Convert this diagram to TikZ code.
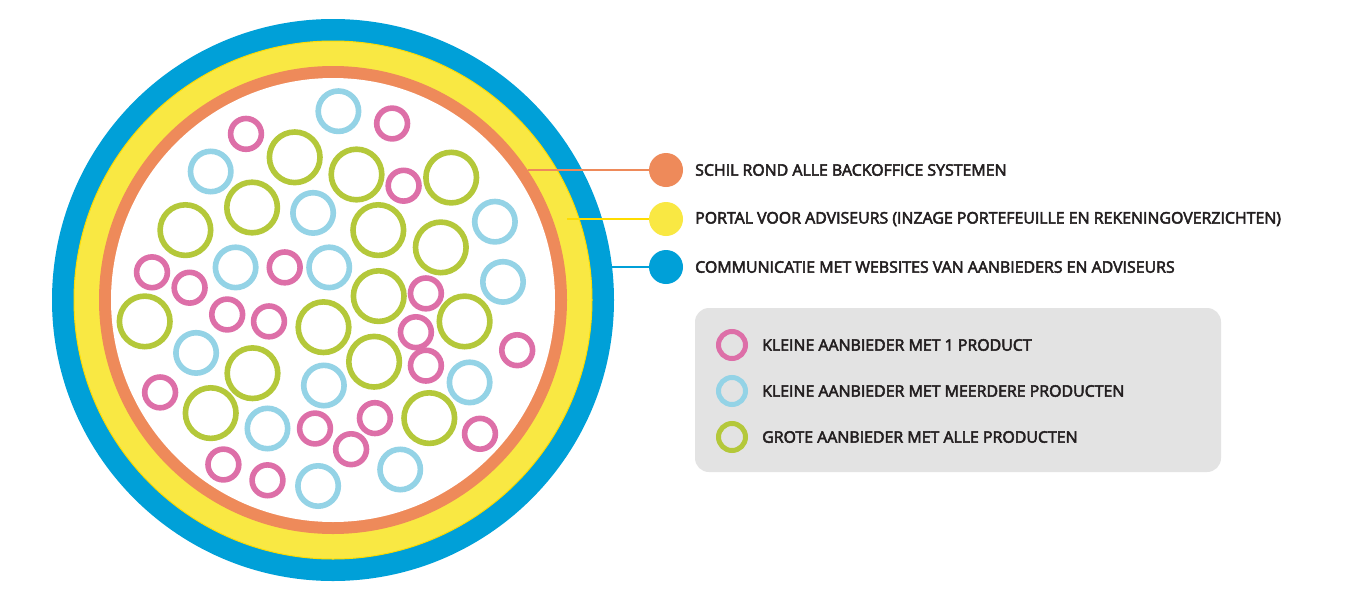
\documentclass[tikz,border=0pt]{standalone}
\usepackage{fontspec}
\setmainfont{Open Sans}
\newcommand\semitxt[1]{\special{pdf:literal direct 2 Tr 0.5 w}#1\special{pdf:literal direct 0 Tr}}
\definecolor{cblue}{HTML}{00A0D8}
\definecolor{cyellow}{HTML}{F9E843}
\definecolor{cgold}{HTML}{FFDC00}
\definecolor{corange}{HTML}{EE8A5A}
\definecolor{cpink}{HTML}{DD6FA8}
\definecolor{clblue}{HTML}{94D3E6}
\definecolor{cgreen}{HTML}{B4C83A}
\definecolor{cgray}{HTML}{E3E3E3}
\definecolor{ctext}{HTML}{231F20}
\begin{document}
\begin{tikzpicture}[x=1pt,y=-1pt,
  band/.style={circle,inner sep=0pt,outer sep=0pt,minimum size=#1},
  ring/.style={circle,draw,inner sep=0pt,outer sep=0pt,line width=5.6pt,fill=none},
  gring/.style={ring,draw=cgreen,minimum size=50.6pt},
  bring/.style={ring,draw=clblue,minimum size=40.4pt},
  pring/.style={ring,draw=cpink,minimum size=30.8pt},
  lring/.style={circle,draw=#1,inner sep=0pt,outer sep=0pt,line width=5pt,minimum size=27pt},
  dot/.style={circle,fill=#1,inner sep=0pt,outer sep=0pt,minimum size=34pt},
  lbl/.style={anchor=west,inner sep=0pt,text=ctext,font=\fontsize{15.9pt}{18pt}\selectfont},
  leader/.style={line width=2pt,draw=#1}]
\useasboundingbox (0,0) rectangle (1350,600);
\fill[white] (0,0) rectangle (1350,600);
% concentric bands
\node[band=562pt,fill=cblue] (bandblue) at (333,300) {};
\node[band=518pt,fill=cyellow,draw=cgold,line width=1pt] (bandyellow) at (333,300) {};
\node[band=468pt,fill=corange] (bandorange) at (333,300) {};
\node[band=444pt,fill=white] (core) at (333,300) {};
% light blue rings
\node[bring] (b1) at (338.4,111.2) {};
\node[bring] (b2) at (210.7,171.5) {};
\node[bring] (b3) at (313.1,212.9) {};
\node[bring] (b4) at (494.9,221.7) {};
\node[bring] (b5) at (235.6,267.4) {};
\node[bring] (b6) at (329.2,267.4) {};
\node[bring] (b7) at (503.0,281.9) {};
\node[bring] (b8) at (196.1,352.9) {};
\node[bring] (b9) at (469.6,382.4) {};
\node[bring] (b10) at (323.9,385.5) {};
\node[bring] (b11) at (267.5,428.5) {};
\node[bring] (b12) at (400.2,469.5) {};
\node[bring] (b13) at (318.1,486.0) {};
% green rings
\node[gring] (g1) at (294.7,157.3) {};
\node[gring] (g2) at (356.5,174.5) {};
\node[gring] (g3) at (451.2,177.6) {};
\node[gring] (g4) at (252.1,207.5) {};
\node[gring] (g5) at (185.4,230.1) {};
\node[gring] (g6) at (378.3,230.1) {};
\node[gring] (g7) at (440.8,247.4) {};
\node[gring] (g8) at (144.7,321.4) {};
\node[gring] (g9) at (378.7,296.1) {};
\node[gring] (g10) at (323.5,327.2) {};
\node[gring] (g11) at (464.6,321.4) {};
\node[gring] (g12) at (252.5,373.2) {};
\node[gring] (g13) at (374.1,361.7) {};
\node[gring] (g14) at (210.7,413.1) {};
\node[gring] (g15) at (429.3,418.1) {};
% pink rings
\node[pring] (p1) at (246.0,133.9) {};
\node[pring] (p2) at (392.1,123.5) {};
\node[pring] (p3) at (403.6,185.7) {};
\node[pring] (p4) at (152.0,272.3) {};
\node[pring] (p5) at (189.6,287.7) {};
\node[pring] (p6) at (284.7,267.4) {};
\node[pring] (p7) at (227.2,314.5) {};
\node[pring] (p8) at (269.0,321.4) {};
\node[pring] (p9) at (425.9,293.4) {};
\node[pring] (p10) at (415.9,332.2) {};
\node[pring] (p11) at (425.9,365.6) {};
\node[pring] (p12) at (517.2,350.2) {};
\node[pring] (p13) at (160.1,392.4) {};
\node[pring] (p14) at (315.0,428.5) {};
\node[pring] (p15) at (374.9,418.1) {};
\node[pring] (p16) at (351.1,449.2) {};
\node[pring] (p17) at (480.0,433.8) {};
\node[pring] (p18) at (223.4,464.5) {};
\node[pring] (p19) at (267.5,480.3) {};
% leaders
\coordinate (s1) at (527.6,170);
\coordinate (s2) at (567,219);
\coordinate (s3) at (611,267);
\coordinate (c1) at (666,170);
\coordinate (c2) at (666,219);
\coordinate (c3) at (666,267);
\draw[leader=corange] (s1) -- (c1);
\draw[leader=cgold] (s2) -- (c2);
\draw[leader=cblue] (s3) -- (c3);
\node[dot=corange] (d1) at (c1) {};
\node[dot=cyellow] (d2) at (c2) {};
\node[dot=cblue] (d3) at (c3) {};
\node[lbl] (t1) at (695,170) {\semitxt{SCHIL ROND ALLE BACKOFFICE SYSTEMEN}};
\node[lbl] (t2) at (695,219) {\semitxt{PORTAL VOOR ADVISEURS (INZAGE PORTEFEUILLE EN REKENINGOVERZICHTEN)}};
\node[lbl] (t3) at (695,267) {\semitxt{COMMUNICATIE MET WEBSITES VAN AANBIEDERS EN ADVISEURS}};
% legend
\node[fill=cgray,rounded corners=14pt,minimum width=526pt,minimum height=164pt,inner sep=0pt] (legend) at (958,390) {};
\node[lring=cpink] (l1) at (732,345) {};
\node[lring=clblue] (l2) at (732,391) {};
\node[lring=cgreen] (l3) at (732,437) {};
\node[lbl] (k1) at (762,345) {\semitxt{KLEINE AANBIEDER MET 1 PRODUCT}};
\node[lbl] (k2) at (762,391) {\semitxt{KLEINE AANBIEDER MET MEERDERE PRODUCTEN}};
\node[lbl] (k3) at (762,437) {\semitxt{GROTE AANBIEDER MET ALLE PRODUCTEN}};
\end{tikzpicture}
\end{document}
